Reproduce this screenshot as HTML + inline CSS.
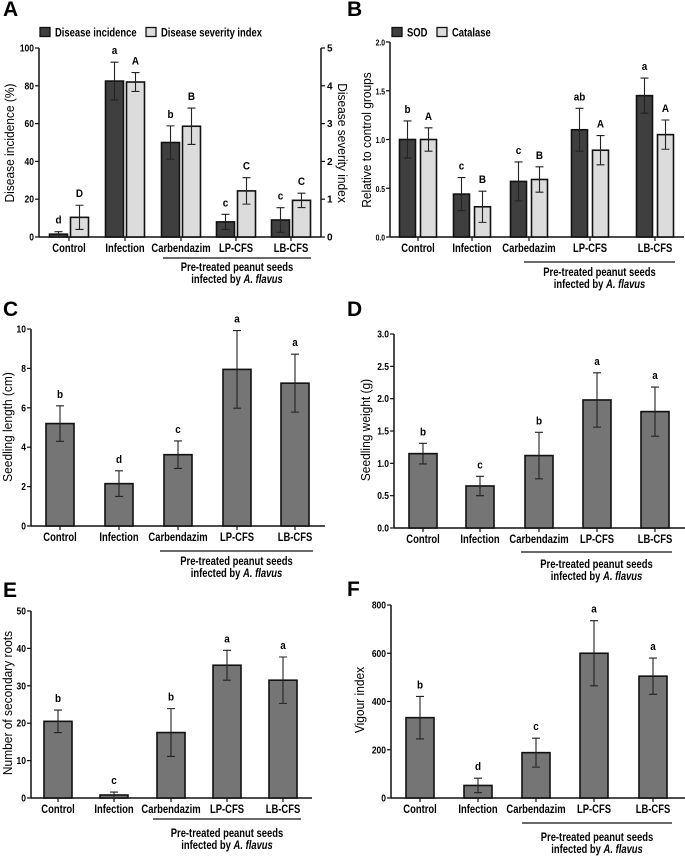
<!DOCTYPE html>
<html><head><meta charset="utf-8">
<style>
html,body{margin:0;padding:0;background:#fff;}
svg{display:block;font-family:"Liberation Sans",Arial,sans-serif;}
</style></head>
<body>
<svg id="fig" width="685" height="856" viewBox="0 0 685 856" xmlns="http://www.w3.org/2000/svg"></svg>
<script>
const cats = ["Control","Infection","Carbendazim","LP-CFS","LB-CFS"];
const catsB = ["Control","Infection","Carbedazim","LP-CFS","LB-CFS"];
// Panel A
const aIncidence = [1.5, 82.5, 50, 8, 9];
const aIncidenceErr = [1.3, 10, 8.8, 4, 6.5];
const aIncidenceLet = ["d","a","b","c","c"];
const aSeverity = [0.52, 4.1, 2.93, 1.22, 0.97];
const aSeverityErr = [0.32, 0.25, 0.48, 0.35, 0.19];
const aSeverityLet = ["D","A","B","C","C"];
const aTicksL = [0,20,40,60,80,100];
const aTicksR = [0,1,2,3,4,5];
// Panel B
const bSOD = [1.0, 0.44, 0.57, 1.1, 1.45];
const bSODErr = [0.19, 0.17, 0.2, 0.22, 0.18];
const bSODLet = ["b","c","c","ab","a"];
const bCat = [1.0, 0.31, 0.59, 0.89, 1.05];
const bCatErr = [0.12, 0.16, 0.13, 0.15, 0.15];
const bCatLet = ["A","B","B","A","A"];
const bTicks = [0,0.5,1,1.5,2];
// Panel C
const cVals = [5.2, 2.15, 3.62, 7.95, 7.25];
const cErr = [0.9, 0.65, 0.7, 1.97, 1.47];
const cLet = ["b","d","c","a","a"];
const cTicks = [0,2,4,6,8,10];
// Panel D
const dVals = [1.15, 0.65, 1.12, 1.98, 1.8];
const dErr = [0.16, 0.15, 0.36, 0.42, 0.38];
const dLet = ["b","c","b","a","a"];
const dTicks = [0,0.5,1,1.5,2,2.5,3];
// Panel E
const eVals = [20.5, 0.8, 17.5, 35.5, 31.5];
const eErr = [3, 0.8, 6.4, 4, 6.2];
const eLet = ["b","c","b","a","a"];
const eTicks = [0,10,20,30,40,50];
// Panel F
const fVals = [333, 52, 188, 600, 505];
const fErr = [88, 30, 60, 135, 75];
const fLet = ["b","d","c","a","a"];
const fTicks = [0,200,400,600,800];

const NS = "http://www.w3.org/2000/svg";
const svg = document.getElementById("fig");
function el(tag, attrs, parent, text){
  const e = document.createElementNS(NS, tag);
  for (const k in attrs) e.setAttribute(k, attrs[k]);
  if (text !== undefined) e.textContent = text;
  (parent || svg).appendChild(e);
  return e;
}
// condensed text
function ctext(parent, x, y, str, attrs, sx){
  const a = Object.assign({x: 0, y: 0, transform: `translate(${x} ${y}) scale(${sx || 0.82} 1)`}, attrs);
  return el("text", a, parent, str);
}
function fmt(v, dec){ return dec ? v.toFixed(1) : String(v); }

function panel(cfg){
  const g = el("g", {});
  
  
  const y = v => cfg.y0 - v / cfg.max * (cfg.y0 - cfg.yTop);
  const L = el("text", {x: cfg.letterX, y: cfg.letterY, "font-size": 21, "font-weight": "bold"}, g, cfg.letter);
  
  
  const ax = el("line", {x1: cfg.ax, y1: cfg.yTop, x2: cfg.ax, y2: cfg.y0, stroke: "#111", "stroke-width": 1.5}, g);
  
  
  const bx = el("line", {x1: cfg.ax, y1: cfg.y0, x2: cfg.xEnd, y2: cfg.y0, stroke: "#111", "stroke-width": 1.5}, g);
  
  
  cfg.ticks.forEach(t => {
    el("line", {x1: cfg.ax - 4, y1: y(t), x2: cfg.ax, y2: y(t), stroke: "#111", "stroke-width": 1.2}, g);
    const tl = ctext(g, cfg.ax - 5, y(t) + 3.5, fmt(t, cfg.dec), {"font-size": cfg.tickFs, "font-weight": "bold", "text-anchor": "end"}, 0.85);
    
    
  });
  const yt = el("text", {x: 0, y: 0, "font-size": 13, "text-anchor": "middle", transform: `translate(${cfg.titleX} ${cfg.titleY}) rotate(-90) scale(0.92 1)`}, g, cfg.yTitle);
  
  
  cfg.cats.forEach((c, i) => {
    const cx = cfg.centers[i];
    el("line", {x1: cx, y1: cfg.y0, x2: cx, y2: cfg.y0 + 4, stroke: "#111", "stroke-width": 1.2}, g);
    const xl = ctext(g, cx, cfg.labelY + 4, c, {"font-size": 11.5, "font-weight": "bold", "text-anchor": "middle"}, 0.82);
    
    
  });
  cfg.series.forEach(s => {
    s.vals.forEach((v, i) => {
      const cx = cfg.centers[i] + s.off;
      const w = s.w;
      const yf = s.yf || y;
      const top = yf(v);
      const r = el("rect", {x: cx - w/2, y: top, width: w, height: cfg.y0 - top, fill: s.color, stroke: "#111", "stroke-width": 1.6}, g);
      
      
      const ev = s.errs[i];
      const yHi = yf(v + ev);
      const yLo = yf(Math.max(0, v - ev));
      const eb = el("path", {d: `M${cx},${yLo}V${yHi}M${cx-4},${yHi}H${cx+4}M${cx-4},${yLo}H${cx+4}`, stroke: "#222", "stroke-width": 1.1, fill: "none"}, g);
      
      
      const lt = ctext(g, cx, yHi - 8, s.lets[i], {"font-size": 11, "font-weight": "bold", "text-anchor": "middle"}, 0.9);
      
      
    });
  });
  const br = el("line", {x1: cfg.brX1, y1: cfg.brY, x2: cfg.brX2, y2: cfg.brY, stroke: "#111", "stroke-width": 1.3}, g);
  
  
  const mid = (cfg.brX1 + cfg.brX2) / 2;
  const t1 = ctext(g, mid, cfg.t1Y + 4, "Pre-treated peanut seeds", {"font-size": 11.5, "font-weight": "bold", "text-anchor": "middle"}, 0.82);
  
  
  const t2 = ctext(g, mid, cfg.t1Y + 16, "", {"font-size": 11.5, "font-weight": "bold", "text-anchor": "middle"}, 0.82);
  
  
  el("tspan", {}, t2, "infected by ");
  el("tspan", {"font-style": "italic"}, t2, "A. flavus");
  return {g, y};
}

function legend(g, x, yy, color, label, name){
  const r = el("rect", {x: x, y: yy - 4.5, width: 10, height: 9, fill: color, stroke: "#111", "stroke-width": 1.3}, g);
  
  
  const t = ctext(g, x + 15, yy + 4.5, label, {"font-size": 11.5, "font-weight": "bold"}, 0.82);
  
  
}

const DARK = "#3f3f3f", LIGHT = "#dcdcdc", MID = "#757575";

// A
const yA0 = 237, yATop = 48;
const ySev = v => yA0 - v / 5 * (yA0 - yATop);
const pA = panel({name:"panel-a", letter:"A", letterX:3, letterY:16, ax:39, xEnd:321, yTop:yATop, y0:yA0, max:100,
  ticks:aTicksL, dec:false, tickFs:10, titleX:14, titleY:143, yTitle:"Disease incidence (%)",
  cats:cats, centers:[69,125,181,236,291], labelY:248,
  series:[
    {key:"incidence", vals:aIncidence, errs:aIncidenceErr, lets:aIncidenceLet, color:DARK, off:-10.5, w:18},
    {key:"severity", vals:aSeverity, errs:aSeverityErr, lets:aSeverityLet, color:LIGHT, off:10.5, w:18, yf:ySev}
  ],
  brX1:163, brX2:311, brY:258, t1Y:267});
(function(){
  const g = pA.g;
  const ra = el("line", {x1:321, y1:yATop, x2:321, y2:yA0, stroke:"#111", "stroke-width":1.5}, g);
  
  
  aTicksR.forEach(t => {
    el("line", {x1:321, y1:ySev(t), x2:325, y2:ySev(t), stroke:"#111", "stroke-width":1.2}, g);
    const tl = el("text", {x:327, y:ySev(t)+3.5, "font-size":10, "font-weight":"bold"}, g, String(t));
    
    
  });
  const rt = el("text", {x:0, y:0, "font-size":13, "text-anchor":"middle", transform:"translate(338 143) rotate(90) scale(0.92 1)"}, g, "Disease severity index");
  
  
  legend(g, 40, 32, DARK, "Disease incidence", "legend-disease-incidence");
  legend(g, 146, 32, LIGHT, "Disease severity index", "legend-disease-severity");
})();

// B
const pB = panel({name:"panel-b", letter:"B", letterX:347, letterY:16, ax:390, xEnd:684, yTop:42, y0:237, max:2,
  ticks:bTicks, dec:true, tickFs:8, titleX:371, titleY:140, yTitle:"Relative to control groups",
  cats:catsB, centers:[418,472,529,590,655], labelY:248,
  series:[
    {key:"sod", vals:bSOD, errs:bSODErr, lets:bSODLet, color:DARK, off:-10.5, w:16},
    {key:"catalase", vals:bCat, errs:bCatErr, lets:bCatLet, color:LIGHT, off:10.5, w:16}
  ],
  brX1:524, brX2:675, brY:262, t1Y:272});
legend(pB.g, 392, 32, DARK, "SOD", "legend-sod");
legend(pB.g, 437, 32, LIGHT, "Catalase", "legend-catalase");

// C
panel({name:"panel-c", letter:"C", letterX:3, letterY:316, ax:31, xEnd:325, yTop:329, y0:526, max:10,
  ticks:cTicks, dec:false, tickFs:10, titleX:12, titleY:427, yTitle:"Seedling length (cm)",
  cats:cats, centers:[60,119,178,237,295], labelY:537,
  series:[{key:"length", vals:cVals, errs:cErr, lets:cLet, color:MID, off:0, w:28}],
  brX1:160, brX2:313, brY:551, t1Y:561});

// D
panel({name:"panel-d", letter:"D", letterX:347, letterY:316, ax:394, xEnd:685, yTop:334, y0:528, max:3,
  ticks:dTicks, dec:true, tickFs:10, titleX:370, titleY:430, yTitle:"Seedling weight (g)",
  cats:cats, centers:[423,480,539,597,655], labelY:539,
  series:[{key:"weight", vals:dVals, errs:dErr, lets:dLet, color:MID, off:0, w:28}],
  brX1:521, brX2:672, brY:552, t1Y:564});

// E
panel({name:"panel-e", letter:"E", letterX:3, letterY:597, ax:31, xEnd:312, yTop:611, y0:798, max:50,
  ticks:eTicks, dec:false, tickFs:10, titleX:12, titleY:703, yTitle:"Number of secondary roots",
  cats:cats, centers:[58,114,171,227,283], labelY:809,
  series:[{key:"roots", vals:eVals, errs:eErr, lets:eLet, color:MID, off:0, w:28}],
  brX1:153, brX2:301, brY:819, t1Y:833});

// F
panel({name:"panel-f", letter:"F", letterX:347, letterY:596, ax:391, xEnd:685, yTop:605, y0:798, max:800,
  ticks:fTicks, dec:false, tickFs:10, titleX:364, titleY:700, yTitle:"Vigour index",
  cats:cats, centers:[420,478,536,594,653], labelY:809,
  series:[{key:"vigour", vals:fVals, errs:fErr, lets:fLet, color:MID, off:0, w:28}],
  brX1:522, brX2:672, brY:823, t1Y:837});
</script>
</body></html>
